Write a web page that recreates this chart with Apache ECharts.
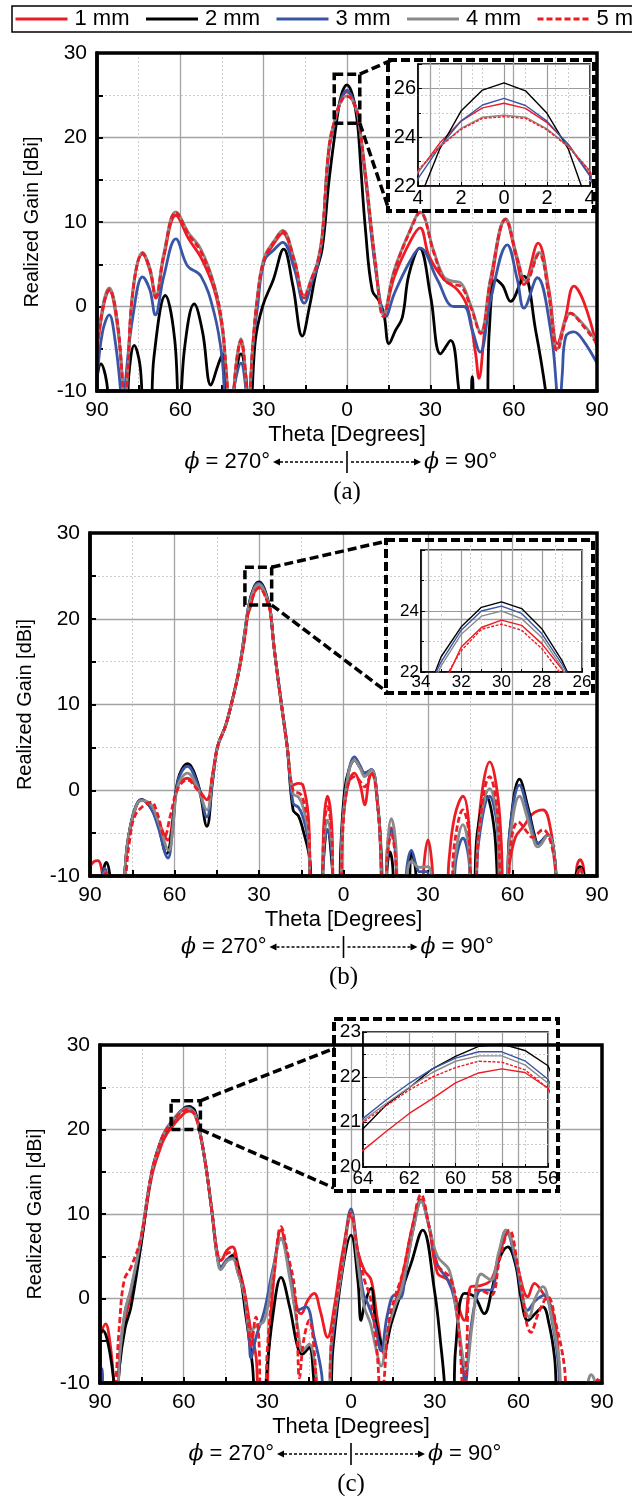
<!DOCTYPE html>
<html>
<head>
<meta charset="utf-8">
<script src="https://cdn.jsdelivr.net/npm/echarts@6/dist/echarts.min.js"></script>
<style>
html,body{margin:0;padding:0;background:#fff;}
#chart{width:632px;height:1496px;}
</style>
</head>
<body>
<div id="chart"></div>
<script>
// ---- series labels and colours ----
const seriesNames = ['1 mm', '2 mm', '3 mm', '4 mm', '5 mm'];
const seriesColors = ['#ed1c24', '#000000', '#3a55a4', '#8a8a8a', '#ed1c24'];
const seriesDashed = [false, false, false, false, true];
const captions = ['(a)', '(b)', '(c)'];
const xTickValues = [-90, -60, -30, 0, 30, 60, 90];
const yTickValues = [-10, 0, 10, 20, 30];

// ---- (a) realized gain [dBi] vs theta [deg]; negative theta = phi 270 side ----
const a1mm = [[-90,-5.2],[-87.5,0.3],[-85.6,1.9],[-83,-1.5],[-81,-8],[-80.2,-14],[-79,-8],[-77,2],[-73.6,6.2],[-71,4.3],[-68.8,1.0],[-66,5.8],[-61.6,10.8],[-57,8.0],[-52.6,5.8],[-47.8,2.0],[-45,-2.5],[-43.6,-7.5],[-41.8,-14],[-40,-7.5],[-38.2,-4.3],[-36.5,-8.5],[-35.8,-14],[-34,-5.5],[-32.2,1.0],[-29.8,5.4],[-26,7.6],[-23.2,8.7],[-19,5.3],[-15.4,1.0],[-12.5,3.3],[-10.6,5.0],[-8.9,8.2],[-6.5,18.5],[-4,22.55],[-3,23.75],[-2,24.66],[-1,25.2],[0,25.39],[1,25.18],[2,24.6],[3,23.7],[4,22.45],[6.7,15.0],[10.3,4.5],[13.3,-0.8],[17,3.5],[22.9,7.8],[26.3,9.3],[29.5,6.0],[34.9,3.2],[39.7,2.0],[43.3,0],[46.3,-5.6],[47.5,-8.5],[49.5,-3],[51.7,2.4],[57.1,10.3],[60.5,6.5],[63.7,2.6],[68.8,7.5],[72.7,2.0],[75.7,-4.4],[78.5,-1.5],[81.7,2.4],[85.3,0.5],[90,-4.8]];
const a2mm = [[-90,-8.5],[-88.6,-6.8],[-86.5,-9],[-85,-14],[-79.5,-14],[-78.5,-8],[-76.6,-4.6],[-74.5,-7],[-72.8,-14],[-71,-14],[-69.5,-6],[-65.4,1.3],[-62,-4],[-60.4,-14],[-58.5,-5],[-55,0.3],[-52,-3],[-49,-9.3],[-46.5,-7],[-44.8,-5.6],[-42.5,-14],[-40,-8],[-38.2,-5.6],[-36.5,-8],[-35,-14],[-33,-4],[-30.4,0],[-26.5,3.2],[-22.8,6.8],[-19.5,2.5],[-16.1,-3.5],[-13.5,0],[-11.3,3.8],[-8.9,6.9],[-6.5,14.8],[-4,21.3],[-3,23.5],[-2,25.07],[-1,25.93],[0,26.23],[1,25.9],[2,24.98],[3,23.5],[4,21.0],[4.9,16.8],[6.7,8.9],[9.1,1.9],[11.5,0.7],[13.3,-0.9],[15.1,-4.4],[17.5,-2.8],[19.9,-1.3],[22.3,3.8],[26.1,6.9],[30.1,1.2],[33.7,-5.6],[37.3,-4.0],[40.3,-10],[41.5,-14],[44,-14],[45.1,-8.3],[46.5,-14],[50,-14],[51.2,-3],[53.5,3.2],[56,2.5],[58.9,0.6],[63.7,3.6],[67.9,-2.8],[71.5,-10],[72.5,-14],[90,-14]];
const a3mm = [[-90,-8.7],[-88,-3],[-85.6,-1.0],[-83.5,-4],[-81.5,-10],[-80.8,-14],[-79.5,-8],[-77,-1],[-73.6,3.5],[-71,2],[-69,-1.0],[-66,3.5],[-61.6,8.0],[-57.4,4.8],[-52.6,3.6],[-47.8,-0.8],[-45,-6],[-43,-14],[-40,-8.5],[-38.2,-6.7],[-36.5,-9.5],[-35.6,-14],[-34,-5],[-32.2,0],[-29.8,5.4],[-26,6.8],[-23.2,7.6],[-19,4.5],[-15.4,0.4],[-12.5,3.0],[-10.6,4.8],[-8.9,8.2],[-6.5,18.5],[-4,22.3],[-3,23.6],[-2,24.66],[-1,25.32],[0,25.59],[1,25.3],[2,24.66],[3,23.68],[4,22.4],[6.7,15.3],[10.3,4.5],[14,-1.2],[17,1.5],[22.9,5.5],[26.3,6.9],[32.5,3.2],[38.5,0],[42.1,0],[45.1,-2.8],[47.9,-5.4],[51.7,0.8],[57.7,7.3],[61.3,3.2],[63.7,-0.2],[68.5,3.4],[73.3,-2.8],[75.5,-10],[76.2,-14],[77.5,-8],[78.7,-3.6],[81.7,-3.0],[85,-4],[90,-6.7]];
const a4mm = [[-90,-4.6],[-87.5,0.7],[-85.6,2.2],[-83,-1],[-81,-8],[-80.2,-14],[-79,-8],[-77,2.2],[-73.6,6.4],[-71,4.6],[-68.8,1.3],[-66,6.2],[-61.6,11.2],[-57,8.7],[-52.6,6.8],[-47.8,2.6],[-45,-2],[-43.6,-7.0],[-41.8,-14],[-40,-7],[-38.2,-3.8],[-36.5,-8],[-35.8,-14],[-34,-5],[-32.2,1.4],[-29.8,5.8],[-26,7.9],[-23.2,9.0],[-19,5.6],[-15.4,1.3],[-12.5,3.6],[-10.6,5.3],[-8.9,8.6],[-6.5,18.9],[-4,22.6],[-3,23.62],[-2,24.36],[-1,24.82],[0,24.9],[1,24.82],[2,24.34],[3,23.62],[4,22.62],[6.7,15.6],[10.3,5.1],[13.1,-1.0],[16.9,4.2],[22.9,9.2],[26.3,11.2],[31.3,6.5],[34.9,3.5],[38,3.0],[40.9,2.8],[44.5,0.2],[48.1,-3.0],[51.7,3.4],[57.1,10.4],[61.3,5.8],[64.3,3.0],[69.1,6.4],[72.7,1.4],[75.7,-5.0],[80.5,-0.8],[85.3,-2.2],[90,-4.2]];
const a5mm = [[-90,-4.8],[-87.5,0.5],[-85.6,2.0],[-83,-1],[-81,-8],[-80.2,-14],[-79,-8],[-77,2],[-73.6,6.3],[-71,4.5],[-68.8,1.2],[-66,6],[-61.6,11.1],[-57,8.5],[-52.6,6.5],[-47.8,2.4],[-45,-2],[-43.6,-7.1],[-41.8,-14],[-40,-7],[-38.2,-4.0],[-36.5,-8],[-35.8,-14],[-34,-5],[-32.2,1.2],[-29.8,5.6],[-26,7.8],[-23.2,8.9],[-19,5.5],[-15.4,1.2],[-12.5,3.5],[-10.6,5.2],[-8.9,8.5],[-6.5,18.8],[-4,22.65],[-3,23.6],[-2,24.32],[-1,24.77],[0,24.84],[1,24.77],[2,24.3],[3,23.6],[4,22.6],[6.7,15.5],[10.3,5.0],[13.1,-1.2],[16.9,4.0],[22.9,9.1],[26.3,11.1],[31.3,6.3],[34.9,3.2],[38,2.6],[40.9,2.4],[44.5,0],[48.1,-3.2],[51.7,3.2],[57.1,10.3],[61.3,5.6],[64.3,2.8],[69.1,6.2],[72.7,1.2],[75.7,-5.2],[80.5,-0.8],[85.3,-2.4],[90,-4.4]];

// ---- (b) ----
const b1mm = [[-90,-8.9],[-88.5,-8.3],[-87.2,-8.2],[-85.5,-10],[-84.5,-14],[-78.5,-14],[-77.5,-9],[-76.5,-5.8],[-74.2,-2.5],[-71.8,-1.1],[-68.5,-1.8],[-65.9,-3.5],[-62.3,-5.8],[-60.5,-3],[-58.8,0.5],[-55.4,1.4],[-51.7,0.2],[-48.5,-1.1],[-46.5,1.8],[-44.7,5.1],[-42,7.4],[-40,9.8],[-37.1,14.0],[-35,18.0],[-34,20.4],[-33,21.4],[-32,22.82],[-31,23.46],[-30,23.7],[-29,23.53],[-28,22.93],[-27,22.1],[-26,21.0],[-24.7,16.8],[-22.4,10.9],[-20,5.1],[-17.9,0.6],[-16,0.8],[-14.4,0.6],[-12.5,-3],[-10.8,-14],[-7.9,-14],[-7,-4],[-5.7,-0.7],[-4.2,-4],[-3.3,-14],[-1.4,-14],[-0.3,-4],[1.5,0.5],[3.9,2.0],[6,0.5],[7.5,-1.7],[9.2,1.5],[10.2,2.0],[12.2,-1.9],[13.3,-8],[13.8,-14],[14.8,-14],[15.5,-7],[17,-4.4],[18.5,-7],[19.5,-14],[28,-14],[28.5,-9],[30,-5.8],[31.5,-9],[32,-14],[36,-14],[37.5,-8],[39.5,-3],[42.4,-0.7],[44.5,-4],[45.4,-14],[46.4,-14],[47.5,-6],[49.5,0.5],[51.9,3.3],[54.5,0],[56,-6],[57,-14],[58,-14],[58.8,-9],[61,-5.5],[64,-4.2],[67,-2.8],[70.8,-2.3],[73.5,-4.5],[75.5,-10],[76.2,-14],[82,-14],[82.8,-9],[84,-8.1],[85.2,-9],[86,-14],[90,-14]];
const b2mm = [[-90,-14],[-86,-14],[-85.5,-10],[-84.2,-8.4],[-82.5,-11],[-82,-14],[-78.5,-14],[-77.5,-9],[-76.5,-5.8],[-74.2,-2.3],[-71.8,-1.1],[-68.5,-2],[-65.9,-3.9],[-62.8,-7.4],[-61,-5],[-58.8,1.2],[-55.4,3.1],[-51.7,0.8],[-48.5,-4.2],[-46.5,1],[-44.7,5.1],[-42,7.4],[-40,9.8],[-37.1,14.0],[-35,18.6],[-34,20.8],[-33,22.5],[-32,23.48],[-31,24.12],[-30,24.3],[-29,24.08],[-28,23.42],[-27,22.38],[-26,21.0],[-24.7,16.8],[-22.4,10.9],[-20,5.1],[-17.9,-2.3],[-16,-3],[-14.4,-4.6],[-12,-8],[-10.8,-14],[-8,-14],[-7.3,-9],[-5.7,-4.6],[-4,-9],[-3.3,-14],[-1.5,-14],[-1,-7],[0.4,0],[2,2.5],[3.9,3.5],[6,2.6],[7.5,2.0],[9.9,2.4],[12.2,-1.9],[13.5,-8],[14,-14],[15,-14],[15.5,-9],[16.5,-7.2],[17.5,-9],[18,-14],[22.5,-14],[24.1,-7.2],[25.5,-9],[26.5,-14],[45.4,-14],[47.5,-5],[50.7,-0.7],[53.5,-4.5],[55.8,-14],[57.6,-14],[59,-5],[62.5,1.3],[65.5,-2],[68,-5.5],[69,-6.2],[72.6,-5.2],[75,-8],[76.3,-14],[82,-14],[82.5,-10],[84,-8.9],[85.5,-10],[86.5,-14],[90,-14]];
const b3mm = [[-90,-14],[-86.2,-14],[-85.5,-10],[-84.8,-9.1],[-84,-10],[-83.5,-14],[-78.5,-14],[-77.5,-9],[-76.5,-5.8],[-74.2,-2.3],[-71.8,-1.1],[-68.5,-2],[-65.9,-4.2],[-62.3,-7.9],[-60.8,-5],[-58.8,1.0],[-55.4,2.8],[-51.7,0.6],[-48.5,-3.1],[-46.5,1.2],[-44.7,5.1],[-42,7.4],[-40,9.8],[-37.1,14.0],[-35,18.5],[-34,21.0],[-33,22.33],[-32,23.37],[-31,24.0],[-30,24.16],[-29,23.92],[-28,23.26],[-27,22.27],[-26,21.1],[-24.7,16.8],[-22.4,10.9],[-20,5.1],[-17.9,-1.5],[-16,-2],[-14.4,-3.1],[-12.5,-6],[-11,-14],[-7.9,-14],[-7,-7],[-5.7,-4.6],[-4.2,-7],[-3.3,-14],[-1.4,-14],[-0.5,-5],[1.5,1.5],[3.9,3.9],[6,2.8],[7.5,2.0],[9.9,2.4],[12.2,-1.9],[13.3,-8],[13.8,-14],[14.8,-14],[15.5,-8],[17,-4.6],[18.5,-7.5],[19.5,-14],[21.5,-14],[22.5,-9],[24.1,-7.0],[26,-9],[27,-9.5],[29.5,-9.5],[31,-14],[38,-14],[40,-8],[42.4,-5.6],[44.5,-8],[45.4,-14],[46.6,-14],[48,-6],[51.9,-0.7],[54.5,-4],[56,-14],[57.6,-14],[59,-5],[62.5,0.6],[65.5,-2.5],[68,-5.8],[69,-6.2],[72.6,-5.2],[75,-8],[76.3,-14],[82.5,-14],[83,-10],[84,-9.3],[85,-10],[86,-14],[90,-14]];
const b4mm = [[-90,-14],[-86,-14],[-85.2,-10],[-84.5,-9.5],[-83.5,-14],[-78.5,-14],[-77.5,-9],[-76.5,-5.8],[-74.2,-2.4],[-71.8,-1.2],[-68.5,-1.6],[-65.9,-3.5],[-62,-7.0],[-60.5,-4],[-58.8,0.5],[-55.4,2.0],[-51.7,0.2],[-48.5,-2.3],[-46.5,1.5],[-44.7,5.1],[-42,7.4],[-40,9.8],[-37.1,14.0],[-35,18.4],[-34,20.8],[-33,22.2],[-32,23.24],[-31,23.83],[-30,24.0],[-29,23.75],[-28,23.13],[-27,22.15],[-26,21.0],[-24.7,16.8],[-22.4,10.9],[-20,5.1],[-17.9,-0.4],[-16,-0.8],[-14.4,-1.9],[-12.5,-5],[-11,-14],[-7.9,-14],[-7,-6],[-5.7,-3.5],[-4.2,-6],[-3.3,-14],[-1.4,-14],[-0.5,-5],[1.5,1.5],[3.9,3.5],[6,2.5],[7.5,1.6],[9.9,2.4],[12.2,-1.9],[13.3,-8],[13.8,-14],[14.8,-14],[15.5,-7],[17,-3.3],[18.5,-6],[19.8,-14],[21.5,-14],[22.5,-10],[24.1,-8.3],[27,-9],[30,-8.9],[31.2,-10],[32,-14],[37.5,-14],[39.5,-8],[42.4,-4.0],[44.5,-7],[45.4,-14],[46.6,-14],[48,-5],[51.9,0.2],[54.5,-3],[56,-14],[57.6,-14],[59,-6],[62.5,-0.7],[65.5,-3.5],[68,-6.3],[69,-6.6],[72.6,-5.2],[75,-8],[76.3,-14],[82.5,-14],[83,-10],[84,-9.3],[85,-10],[86,-14],[90,-14]];
const b5mm = [[-90,-14],[-86,-14],[-85,-10],[-84,-9.5],[-83,-14],[-78,-14],[-77,-9],[-76,-6],[-74.2,-3.1],[-71,-1.8],[-68.2,-1.4],[-66,-2.8],[-63.5,-5.4],[-61.5,-3],[-58.8,0.2],[-55.4,1.2],[-51.7,0.0],[-48.5,-1.1],[-46.5,1.8],[-44.7,5.1],[-42,7.4],[-40,9.8],[-37.1,14.0],[-35,17.8],[-34,20.5],[-33,21.6],[-32,22.7],[-31,23.4],[-30,23.57],[-29,23.37],[-28,22.77],[-27,21.9],[-26,20.8],[-24.7,16.8],[-22.4,10.9],[-20,5.1],[-17.9,0],[-15.5,-0.4],[-14.4,-1],[-12.5,-4],[-10.8,-14],[-7.9,-14],[-7,-5],[-5.7,-1.9],[-4.2,-5],[-3.3,-14],[-1.4,-14],[-0.3,-5],[1.5,0.5],[3.9,1.6],[6,1.0],[7.5,0.4],[9.9,2.0],[12.2,-2],[13.3,-8],[13.8,-14],[14.8,-14],[15.5,-8],[17,-5.2],[18.5,-8],[19.5,-14],[37,-14],[39.5,-6],[42.4,-2.3],[44.5,-5],[45.4,-14],[46.6,-14],[48,-5],[51.9,1.6],[54.5,-2],[56.5,-14],[58,-14],[59.5,-6],[62,-3.7],[65.5,-5],[67,-5.5],[70.8,-4.6],[73.5,-6],[75.5,-10],[76.3,-14],[82.5,-14],[83,-10],[84,-9.0],[85,-10],[86,-14],[90,-14]];

// ---- (c) ----
const c1mm = [[-90,-4.5],[-88,-3.0],[-86.5,-5],[-85,-10],[-84.3,-14],[-83,-8],[-81,-2.5],[-78.9,0.5],[-75.4,6.3],[-71.4,14.5],[-67.8,18.3],[-66,19.5],[-64,20.37],[-63,20.79],[-62,21.19],[-61,21.52],[-60,21.87],[-59,22.09],[-58,22.18],[-57,22.1],[-56,21.75],[-54.6,20.3],[-52.2,16.0],[-49.8,10.1],[-48,5.5],[-46.7,4.5],[-44.5,5.7],[-42.5,6.1],[-40.5,4],[-38.3,1.0],[-35.9,-3.8],[-34,-7],[-32.8,-14],[-30.8,-14],[-29.5,-6],[-27.5,3],[-25.1,8.1],[-22.5,4],[-19.1,-1.4],[-17.9,-1.8],[-15.5,-0.2],[-13.2,0.6],[-11,-1.5],[-8.4,-4.6],[-6,-1],[-3,5.5],[0,9.7],[2.5,5.5],[4.8,3.3],[7.2,2.2],[9.5,-2.5],[12,-6.6],[13.5,-4],[15.6,-1.0],[19,3.5],[22,8.5],[25.1,11.7],[28,8.5],[31,3],[34.7,2.2],[37.5,0],[40.7,-2.6],[43,1.4],[46,1.5],[50.2,2.2],[53,5],[56.2,7.7],[59.5,4],[63.4,0.2],[65.8,1.8],[68.5,0.8],[71.8,-1.0],[74,-5],[76,-14],[87,-14],[88.5,-9.6],[90,-10]];
const c2mm = [[-90,-4.2],[-89,-3.8],[-87,-5.5],[-85,-10],[-84.3,-14],[-83,-8],[-81,-3.5],[-78.9,-1.0],[-75.4,6.1],[-71.4,15.0],[-67.8,19.0],[-66,20.0],[-64,20.85],[-63,21.38],[-62,21.76],[-61,22.18],[-60,22.46],[-59,22.68],[-58,22.73],[-57,22.59],[-56,22.25],[-54.6,20.5],[-52.2,16.0],[-49.8,10.1],[-48,5.0],[-46.5,3.6],[-44.5,4.5],[-42.5,5.1],[-40,3],[-37.8,-1.8],[-35.4,-7.7],[-33.5,-14],[-31,-14],[-30.5,-10],[-28,-2],[-25.1,2.5],[-22,-1],[-19.1,-5.8],[-17.5,-6.6],[-15,-5.8],[-13.5,-9],[-12.6,-14],[-8,-14],[-6.5,-6],[-3,3.5],[0,7.5],[2.5,2],[3.6,-2.6],[5,-0.5],[7.2,1.2],[9,-3],[12,-5.8],[14.4,-3],[17.9,0.6],[21.5,4.1],[25.7,8.1],[29.9,1.0],[32.3,-5.8],[33.5,-10],[34,-14],[36.5,-14],[37.5,-6],[40.7,0.6],[44.3,0.2],[47.8,-1.8],[50.5,1],[53,4.5],[56.2,6.1],[59,4],[61,0],[63.4,-2.6],[66,-1.8],[68.8,-1.0],[71,-3],[73,-7],[74.8,-14],[90,-14]];
const c3mm = [[-90,-9.5],[-89.3,-8.3],[-88.5,-14],[-84.3,-14],[-83,-7],[-81,-1.5],[-78.9,1.0],[-75.4,6.8],[-71.4,15.0],[-67.8,19.0],[-66,20.2],[-64,21.08],[-63,21.49],[-62,21.86],[-61,22.18],[-60,22.42],[-59,22.56],[-58,22.56],[-57,22.36],[-56,21.95],[-54.6,20.4],[-52.2,16.0],[-49.8,10.1],[-48,5.3],[-46.7,3.7],[-44.5,4.6],[-42.5,4.8],[-40.5,3],[-38.3,0.5],[-36.5,-5],[-35.9,-7.0],[-34,-4.5],[-31.1,-1.5],[-28,3.5],[-25.1,7.1],[-22,3.5],[-19.1,-1.4],[-16.1,-1.0],[-13.2,-4.6],[-10.5,-9],[-9.6,-14],[-8,-14],[-7,-6],[-3,4],[0,10.6],[2.5,5],[4.5,0.5],[6,-0.6],[8.5,-3],[10.8,-6.2],[13,-2],[15.6,0.4],[17.5,0],[20,4],[22.5,8.5],[25.1,11.5],[28,8.5],[31,4],[34.7,2.2],[37,0],[39.5,-6],[41,-10],[42.5,-5],[44.5,-0.5],[46.7,1.0],[50,1],[53,5],[55.6,8.1],[59,4.5],[63.4,-1.4],[66,-0.3],[69.4,0.4],[72,-2.5],[74.5,-8],[76,-14],[90,-14]];
const c4mm = [[-90,-14],[-84.5,-14],[-83,-7],[-81,-1.5],[-78.9,1.2],[-75.4,7],[-71.4,15.0],[-67.8,19.0],[-66,20.1],[-64,21.03],[-63,21.41],[-62,21.77],[-61,22.1],[-60,22.35],[-59,22.47],[-58,22.47],[-57,22.27],[-56,21.86],[-54.6,20.4],[-52.2,16.0],[-49.8,10.1],[-48,5.0],[-46.7,3.4],[-44.5,4.4],[-42.5,4.7],[-40.5,3],[-38.3,0.5],[-36,-4],[-34.5,-3.4],[-31.1,-2.6],[-28,3],[-25.1,7.1],[-22,2.5],[-19.1,-3.4],[-17.3,-6.2],[-15,-5.4],[-12.5,-9],[-11,-14],[-8.5,-14],[-7,-5],[-3,4],[0,10.1],[2.5,4],[4.8,-1.0],[7,-3],[9,-6],[10.8,-8.0],[13,-4],[15.6,-1.0],[18,1],[20.5,5],[22.5,8.5],[25.1,11.5],[28,8.5],[31,5],[35.3,3.3],[38,-2],[41.3,-8.2],[43.5,-3],[46.7,2.9],[50.2,2.2],[53,5.5],[55.6,8.1],[59,5],[64,-2.2],[66,0],[68.8,1.4],[71.5,-1.5],[74.5,-7],[76.6,-14],[84.5,-14],[85,-10],[86.1,-9.0],[87.5,-10],[88,-14],[90,-14]];
const c5mm = [[-90,-14],[-85,-14],[-84.3,-10],[-83,-3],[-81.3,2.2],[-78.9,3.7],[-75.4,7.1],[-71.4,15.0],[-67.8,19.0],[-66,20.1],[-64,20.99],[-63,21.36],[-62,21.71],[-61,22.0],[-60,22.21],[-59,22.35],[-58,22.33],[-57,22.16],[-56,21.75],[-54.6,20.3],[-52.2,16.0],[-49.8,10.1],[-48,5.5],[-46.7,4.5],[-44.5,5.3],[-42.5,5.5],[-40.5,3.5],[-38.3,1.0],[-36.5,-4],[-35.9,-5.8],[-34.1,-2.2],[-33,-5],[-32.3,-14],[-31,-14],[-30,-6],[-27.5,3],[-25.1,8.5],[-22.5,5],[-20.3,1.4],[-19.3,-4],[-18.5,-9.4],[-17,-5],[-15,-2.6],[-13,-7],[-12,-14],[-8,-14],[-7,-5],[-3,4.5],[0,10.1],[2.5,5.5],[4.8,2.2],[7,0],[9.5,-7],[10.8,-14],[11.8,-10],[13.5,-3],[15.6,0],[18.5,3],[22,8.5],[25.1,12.3],[28,8.5],[31,4],[35.9,2.2],[38.5,-3],[40.7,-14],[41.5,-6],[43,1.0],[46,1.0],[50.2,0.4],[53.5,5],[56.8,8.1],[60,3.5],[64.6,-4.0],[67.5,-1.5],[70.6,0.2],[73.5,-3],[76.5,-8],[77.8,-14],[87,-14],[88.5,-9.6],[90,-10]];

const panelData = [
  [a1mm, a2mm, a3mm, a4mm, a5mm],
  [b1mm, b2mm, b3mm, b4mm, b5mm],
  [c1mm, c2mm, c3mm, c4mm, c5mm]
];

// ---- layout of the three panels ----
const panels = [
  {
    main: {left: 97, top: 53, width: 500, height: 338},
    inset: {left: 418, top: 64, width: 172, height: 122},
    insetX: [-4, 4, 2], insetY: [22, 27, 2], insetFont: 20,
    box: [388, 60, 594, 211],
    zoomRect: [-4.6, 27.5, 4.6, 21.7],
    linkTop: [392, 60], linkBottom: [388, 207]
  },
  {
    main: {left: 90, top: 533, width: 507, height: 343},
    inset: {left: 421, top: 550, width: 161, height: 122},
    insetX: [-34, -26, 2], insetY: [22, 26, 2], insetFont: 17,
    box: [386, 540, 593, 693],
    zoomRect: [-35, 26, -25.5, 21.6],
    linkTop: [387, 541], linkBottom: [387, 692]
  },
  {
    main: {left: 100, top: 1045, width: 502, height: 338},
    inset: {left: 363, top: 1032, width: 185, height: 135},
    insetX: [-64, -56, 2], insetY: [20, 23, 1], insetFont: 19,
    box: [334, 1019, 558, 1191],
    zoomRect: [-64.5, 23.4, -54, 20],
    linkTop: [335, 1048], linkBottom: [334, 1188]
  }
];

const SANS = 'Liberation Sans, Arial, sans-serif';
const SERIF = 'Liberation Serif, Times New Roman, serif';
const LINE_W = 2.8;

const grids = [], xAxes = [], yAxes = [], series = [];

panels.forEach(function (p, pi) {
  const gMain = grids.length;
  grids.push(Object.assign({show: false}, p.main));
  xAxes.push({
    type: 'value', gridIndex: gMain, min: xTickValues[0], max: xTickValues[xTickValues.length - 1], interval: 30,
    axisLine: {show: true, onZero: false, lineStyle: {color: '#000', width: 3.5}},
    axisTick: {show: true, inside: true, length: 6, lineStyle: {color: '#000', width: 2}},
    minorTick: {show: true, splitNumber: 2, length: 6, lineStyle: {color: '#000', width: 2}},
    axisLabel: {formatter: function (v) { return String(Math.abs(v)); }, fontSize: 21, color: '#000', fontFamily: SANS, margin: 9},
    splitLine: {show: true, lineStyle: {color: '#a3a3a3', width: 1.3}},
    minorSplitLine: {show: true, lineStyle: {color: '#cfcfcf', width: 1, type: [2, 2]}},
    name: 'Theta [Degrees]', nameLocation: 'middle', nameGap: 33,
    nameTextStyle: {fontSize: 22, color: '#000', fontFamily: SANS}
  });
  yAxes.push({
    type: 'value', gridIndex: gMain, min: yTickValues[0], max: yTickValues[yTickValues.length - 1], interval: 10,
    axisLine: {show: true, onZero: false, lineStyle: {color: '#000', width: 3.5}},
    axisTick: {show: true, inside: true, length: 6, lineStyle: {color: '#000', width: 2}},
    minorTick: {show: true, splitNumber: 2, length: 6, lineStyle: {color: '#000', width: 2}},
    axisLabel: {fontSize: 21, color: '#000', fontFamily: SANS, margin: 10},
    splitLine: {show: true, lineStyle: {color: '#a3a3a3', width: 1.3}},
    minorSplitLine: {show: true, lineStyle: {color: '#cfcfcf', width: 1, type: [2, 2]}},
    name: 'Realized Gain [dBi]', nameLocation: 'middle', nameGap: 55,
    nameTextStyle: {fontSize: 20, color: '#000', fontFamily: SANS}
  });

  const gIn = grids.length;
  grids.push(Object.assign({show: true, borderColor: '#000', borderWidth: 1.5, backgroundColor: 'transparent'}, p.inset));
  xAxes.push({
    type: 'value', gridIndex: gIn, min: p.insetX[0], max: p.insetX[1], interval: p.insetX[2],
    axisLine: {show: true, onZero: false, lineStyle: {color: '#000', width: 1.5}},
    axisTick: {show: true, inside: true, length: 4, lineStyle: {color: '#000'}},
    minorTick: {show: true, splitNumber: 2, length: 3, lineStyle: {color: '#000'}},
    axisLabel: {formatter: function (v) { return String(Math.abs(v)); }, fontSize: p.insetFont, color: '#000', fontFamily: SANS, margin: 2},
    splitLine: {show: true, lineStyle: {color: '#9a9a9a', width: 1.2}},
    minorSplitLine: {show: true, lineStyle: {color: '#cccccc', width: 1, type: [2, 2]}}
  });
  yAxes.push({
    type: 'value', gridIndex: gIn, min: p.insetY[0], max: p.insetY[1], interval: p.insetY[2],
    axisLine: {show: true, onZero: false, lineStyle: {color: '#000', width: 1.5}},
    axisTick: {show: true, inside: true, length: 4, lineStyle: {color: '#000'}},
    minorTick: {show: true, splitNumber: 2, length: 3, lineStyle: {color: '#000'}},
    axisLabel: {fontSize: p.insetFont, color: '#000', fontFamily: SANS, margin: 2, showMaxLabel: p.insetY[2] === 1},
    splitLine: {show: true, lineStyle: {color: '#9a9a9a', width: 1.2}},
    minorSplitLine: {show: true, lineStyle: {color: '#cccccc', width: 1, type: [2, 2]}}
  });

  panelData[pi].forEach(function (pts, si) {
    const style = {color: seriesColors[si], width: LINE_W, type: seriesDashed[si] ? [6, 3] : 'solid'};
    series.push({
      name: seriesNames[si], type: 'line', xAxisIndex: gMain, yAxisIndex: gMain,
      data: pts, smooth: 0.4, symbol: 'none', clip: true, lineStyle: style,
      itemStyle: {color: seriesColors[si]}, z: 2 + si * 0.1
    });
    // close-up around the main beam: same samples, drawn point to point
    const lo = p.insetX[0] - 3, hi = p.insetX[1] + 3;
    series.push({
      name: seriesNames[si], type: 'line', xAxisIndex: gIn, yAxisIndex: gIn,
      data: pts.filter(function (d) { return d[0] >= lo && d[0] <= hi; }),
      smooth: false, symbol: 'none', clip: true,
      lineStyle: {color: seriesColors[si], width: 1.4, type: seriesDashed[si] ? [3, 1.5] : 'solid'},
      itemStyle: {color: seriesColors[si]}, z: 3 + si * 0.1
    });
  });
});

const option = {
  animation: false,
  backgroundColor: '#fff',
  legend: {
    data: seriesNames, left: 12, top: 6, orient: 'horizontal', width: 900,
    itemWidth: 52, itemHeight: 14, itemGap: 15,
    itemStyle: {opacity: 0},
    lineStyle: {width: 3},
    borderColor: '#000', borderWidth: 1.5, padding: [2, 6, 2, 2],
    textStyle: {fontSize: 22, color: '#000', fontFamily: SANS, padding: [0, 0, 0, 2]},
    selectedMode: false
  },
  grid: grids, xAxis: xAxes, yAxis: yAxes, series: series
};

const chart = echarts.init(document.getElementById('chart'), null, {renderer: 'canvas'});
chart.setOption(option);

// ---- frames, close-up boxes, link lines, phi annotation and captions ----
const graphics = [];
const DASH = [9, 4];
panels.forEach(function (p, pi) {
  const gMain = pi * 2;
  const m = p.main;
  graphics.push({type: 'rect', z: 100, silent: true,
    shape: {x: m.left, y: m.top, width: m.width, height: m.height},
    style: {fill: 'none', stroke: '#000', lineWidth: 3.5}});

  const tl = chart.convertToPixel({gridIndex: gMain}, [p.zoomRect[0], p.zoomRect[1]]);
  const br = chart.convertToPixel({gridIndex: gMain}, [p.zoomRect[2], p.zoomRect[3]]);
  graphics.push({type: 'rect', z: 90, silent: true,
    shape: {x: tl[0], y: tl[1], width: br[0] - tl[0], height: br[1] - tl[1]},
    style: {fill: 'none', stroke: '#000', lineWidth: 3.5, lineDash: DASH}});
  const b = p.box;
  graphics.push({type: 'rect', z: 90, silent: true,
    shape: {x: b[0], y: b[1], width: b[2] - b[0], height: b[3] - b[1]},
    style: {fill: 'none', stroke: '#000', lineWidth: 4, lineDash: DASH}});
  graphics.push({type: 'line', z: 90, silent: true,
    shape: {x1: br[0], y1: tl[1], x2: p.linkTop[0], y2: p.linkTop[1]},
    style: {stroke: '#000', lineWidth: 3.5, lineDash: DASH}});
  graphics.push({type: 'line', z: 90, silent: true,
    shape: {x1: br[0], y1: br[1], x2: p.linkBottom[0], y2: p.linkBottom[1]},
    style: {stroke: '#000', lineWidth: 3.5, lineDash: DASH}});

  // phi direction marker below the theta axis
  const zero = chart.convertToPixel({gridIndex: gMain}, [0, yTickValues[0]]);
  const cx = zero[0];
  const bottom = m.top + m.height;
  const ry = bottom + 71;
  const arm = 74;
  graphics.push({type: 'line', z: 90, silent: true,
    shape: {x1: cx - 4, y1: ry, x2: cx - arm + 5, y2: ry},
    style: {stroke: '#000', lineWidth: 1.6, lineDash: [3, 2]}});
  graphics.push({type: 'line', z: 90, silent: true,
    shape: {x1: cx + 4, y1: ry, x2: cx + arm - 5, y2: ry},
    style: {stroke: '#000', lineWidth: 1.6, lineDash: [3, 2]}});
  graphics.push({type: 'polygon', z: 90, silent: true,
    shape: {points: [[cx - arm, ry], [cx - arm + 7, ry - 3.5], [cx - arm + 7, ry + 3.5]]},
    style: {fill: '#000'}});
  graphics.push({type: 'polygon', z: 90, silent: true,
    shape: {points: [[cx + arm, ry], [cx + arm - 7, ry - 3.5], [cx + arm - 7, ry + 3.5]]},
    style: {fill: '#000'}});
  graphics.push({type: 'line', z: 90, silent: true,
    shape: {x1: cx, y1: ry - 11, x2: cx, y2: ry + 11},
    style: {stroke: '#000', lineWidth: 1.6}});
  const richPhi = {phi: {fontFamily: 'DejaVu Serif', fontStyle: 'italic', fontSize: 22, fill: '#000'},
                   t: {fontFamily: SANS, fontSize: 22, fill: '#000'}};
  graphics.push({type: 'text', z: 90, silent: true, x: cx - arm - 3, y: ry,
    style: {text: '{phi|\u03d5}{t| = 270\u00b0}', rich: richPhi, align: 'right', verticalAlign: 'middle'}});
  graphics.push({type: 'text', z: 90, silent: true, x: cx + arm + 3, y: ry,
    style: {text: '{phi|\u03d5}{t| = 90\u00b0}', rich: richPhi, align: 'left', verticalAlign: 'middle'}});
  graphics.push({type: 'text', z: 90, silent: true, x: cx, y: bottom + 101,
    style: {text: captions[pi], fontFamily: SERIF, fontSize: 25, fill: '#000', align: 'center', verticalAlign: 'middle'}});
});
chart.setOption({graphic: {elements: graphics}});
</script>
</body>
</html>
